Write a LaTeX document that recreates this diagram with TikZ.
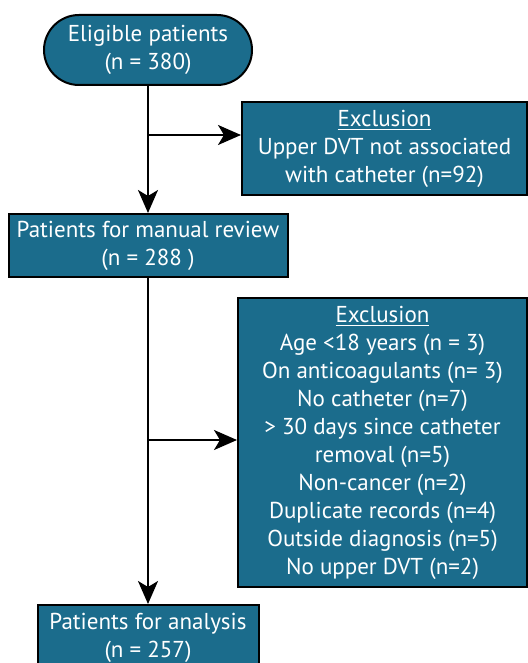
\documentclass[tikz,border=0pt]{standalone}
\usepackage{fontspec}
\setmainfont{PT Sans}
\usetikzlibrary{arrows.meta}
\definecolor{boxteal}{RGB}{27,108,140}

\begin{document}
\begin{tikzpicture}[x=0.5pt,y=-0.5pt,
  box/.style={draw=black,line width=1pt,fill=boxteal,text=white,align=center,
    inner sep=0pt,font=\fontsize{11.5}{14}\selectfont},
  flow/.style={line width=1pt,-{Stealth[length=11.5pt,width=10pt,inset=3pt]}}]
\useasboundingbox (0,0) rectangle (528,663);

\node[box,minimum width=104pt,minimum height=35pt,rounded corners=17.5pt] (elig) at (148,50) {Eligible patients\\(n = 380)};
\node[box,minimum width=142.5pt,minimum height=46.5pt] (exclA) at (384.5,148.5) {\underline{Exclusion}\\Upper DVT not associated\\with catheter (n=92)};
\node[box,minimum width=139.5pt,minimum height=31.5pt] (review) at (148,245.5) {Patients for manual review\\(n = 288 )};
\node[box,minimum width=144.5pt,minimum height=144.5pt] (exclB) at (382.5,442.5) {\underline{Exclusion}\\Age <18 years (n = 3)\\On anticoagulants (n= 3)\\No catheter (n=7)\\> 30 days since catheter\\removal (n=5)\\Non-cancer (n=2)\\Duplicate records (n=4)\\Outside diagnosis (n=5)\\No upper DVT (n=2)};
\node[box,minimum width=110.5pt,minimum height=33pt] (analysis) at (148,638) {Patients for analysis\\(n = 257)};

\coordinate (b1) at (148,135);
\coordinate (b2) at (148,440);

\draw[flow] (elig) -- (review);
\draw[flow] (b1) -- (b1 -| exclA.west);
\draw[flow] (review) -- (analysis);
\draw[flow] (b2) -- (b2 -| exclB.west);
\end{tikzpicture}
\end{document}
